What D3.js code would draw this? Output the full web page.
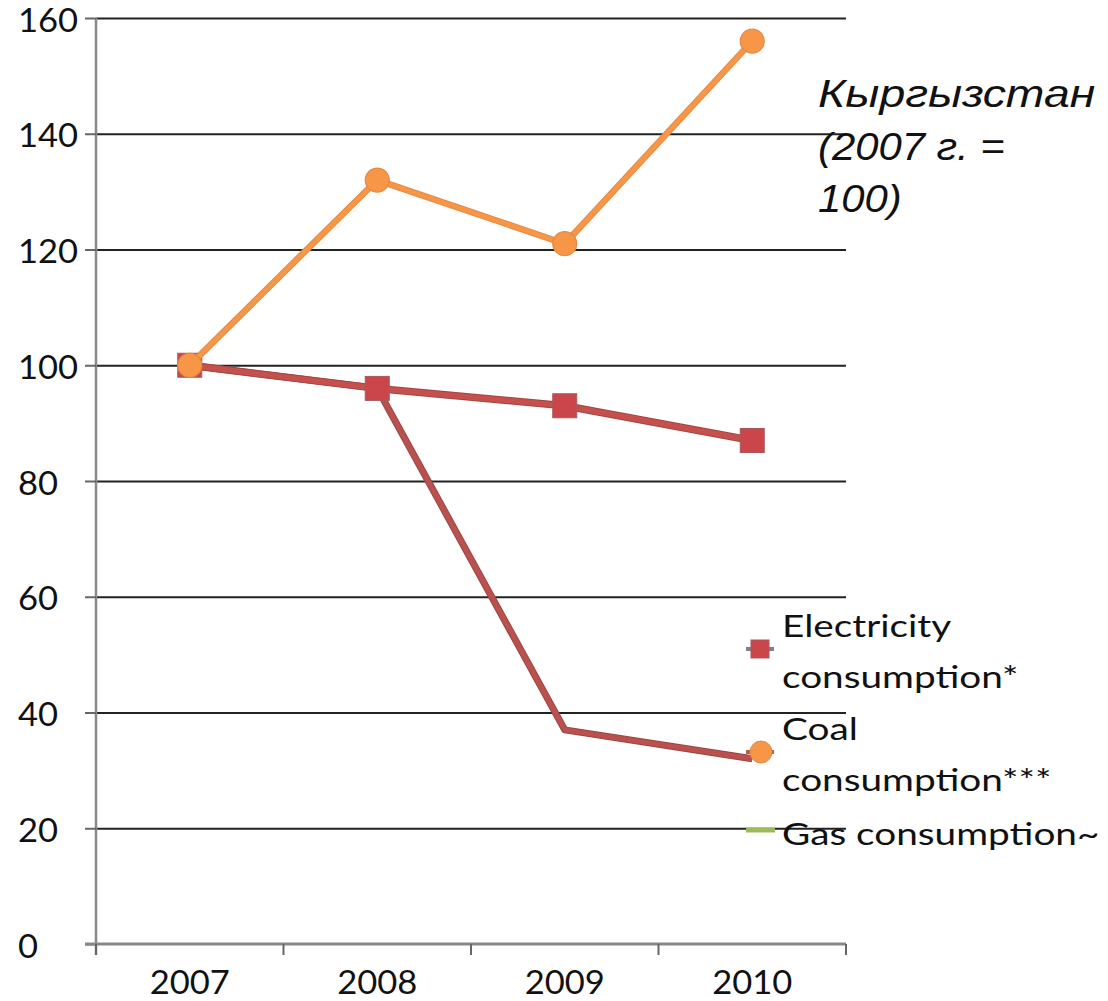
<!DOCTYPE html>
<html>
<head>
<meta charset="utf-8">
<script src="https://cdn.jsdelivr.net/npm/d3@7"></script>
<style>
  html, body { margin: 0; padding: 0; background: #fff; }
  svg { display: block; }
</style>
</head>
<body>
<svg id="chart" width="1108" height="1001"></svg>
<script>
// ---- data ----
const years = ["2007", "2008", "2009", "2010"];
const electricity = [100, 96, 93, 87];
const coal = [100, 132, 121, 156];
const gas = [100, 96, 37, 32];
const yTicks = [0, 20, 40, 60, 80, 100, 120, 140, 160];
const legendElectricity = ["Electricity", "consumption*"];
const legendCoal = ["Coal", "consumption***"];
const legendGas = ["Gas consumption~"];
const titleLines = ["Кыргызстан", "(2007 г. =", "100)"];

// ---- layout ----
const svg = d3.select("#chart");
const pL = 96, pR = 846, pT = 18, pB = 944;

const x = d3.scaleBand().domain(years).range([pL, pR]).padding(0);
const cx = d => x(d) + x.bandwidth() / 2;
const y = d3.scaleLinear().domain([0, 160]).range([pB, pT]);

const axisFont = "Lato, 'Open Sans', sans-serif";

// gridlines via axis
const grid = svg.append("g")
  .attr("transform", `translate(${pL},0)`)
  .call(d3.axisLeft(y).tickValues(yTicks.filter(v => v > 0)).tickSize(-(pR - pL)).tickFormat(""));
grid.select(".domain").remove();
grid.selectAll(".tick line").attr("stroke", "#222").attr("stroke-width", 2);

// y-axis line and outward ticks
const yAxis = svg.append("g")
  .attr("transform", `translate(${pL},0)`)
  .call(d3.axisLeft(y).tickValues(yTicks).tickSize(11).tickSizeOuter(0).tickFormat(""));
yAxis.select(".domain").attr("stroke", "#888").attr("stroke-width", 2.5)
  .attr("d", `M0,${pT}V${pB + 11}`);
yAxis.selectAll(".tick line").attr("stroke", "#666").attr("stroke-width", 2);

// y labels (left aligned)
svg.append("g").selectAll("text").data(yTicks).join("text")
  .attr("dy", "0.36em")
  .attr("font-family", axisFont)
  .attr("font-size", 32)
  .attr("transform", d => `translate(18,${y(d) + 2}) scale(1.08,1)`)
  .attr("fill", "#111")
  .text(d => d);

// x-axis
const xAxis = svg.append("g")
  .attr("transform", `translate(0,${pB})`)
  .call(d3.axisBottom(x).tickSize(0).tickFormat(""));
xAxis.select(".domain").attr("stroke", "#888").attr("stroke-width", 3)
  .attr("d", `M${pL - 11},0H${pR}`);
const bounds = years.map(d => x(d)).concat([pR]);
svg.append("g").selectAll("line").data(bounds).join("line")
  .attr("x1", d => d).attr("x2", d => d)
  .attr("y1", pB).attr("y2", pB + 11)
  .attr("stroke", "#666").attr("stroke-width", 2);
svg.append("g").selectAll("text").data(years).join("text")
  .attr("text-anchor", "middle")
  .attr("font-family", axisFont)
  .attr("font-size", 32)
  .attr("fill", "#111")
  .attr("transform", d => `translate(${cx(d)},994) scale(1.08,1)`)
  .text(d => d);

// ---- lines ----
const lineGen = d3.line().x((d, i) => cx(years[i])).y(d => y(d));

function drawLine(vals, edge, fill, w) {
  svg.append("path").datum(vals).attr("d", lineGen)
    .attr("fill", "none").attr("stroke", edge).attr("stroke-width", w + 2)
    .attr("stroke-linejoin", "round");
  svg.append("path").datum(vals).attr("d", lineGen)
    .attr("fill", "none").attr("stroke", fill).attr("stroke-width", w)
    .attr("stroke-linejoin", "round");
}
drawLine(gas, "#9a4644", "#bb514e", 5);
drawLine(electricity, "#a24644", "#c6504d", 5.5);

const sq = 24;
svg.append("g").selectAll("rect").data(electricity).join("rect")
  .attr("x", (d, i) => cx(years[i]) - sq / 2)
  .attr("y", d => y(d) - sq / 2)
  .attr("width", sq).attr("height", sq)
  .attr("fill", "#cb464a").attr("stroke", "#a8585a").attr("stroke-width", 1);

drawLine(coal, "#e28c48", "#f79646", 4.5);
svg.append("g").selectAll("circle").data(coal).join("circle")
  .attr("cx", (d, i) => cx(years[i]))
  .attr("cy", d => y(d))
  .attr("r", 12)
  .attr("fill", "#f79646").attr("stroke", "#e08a48").attr("stroke-width", 1.2);

// ---- legend ----
const legendFont = "Lato, 'Open Sans', sans-serif";
const lg = svg.append("g");
const lx = 782;
function legendText(lines, baseline) {
  lines.forEach((t, i) => {
    lg.append("text")
      .attr("font-family", legendFont)
      .attr("font-size", 31)
      .attr("fill", "#111")
      .attr("transform", `translate(${lx},${baseline + i * 51}) scale(1.25,1)`)
      .text(t);
  });
}
// electricity marker
lg.append("line").attr("x1", 746).attr("x2", 774).attr("y1", 649).attr("y2", 649)
  .attr("stroke", "#8a7d96").attr("stroke-width", 4);
lg.append("rect").attr("x", 751).attr("y", 640).attr("width", 18).attr("height", 18)
  .attr("fill", "#cb464a").attr("stroke", "#a8585a");
legendText(legendElectricity, 637);
// coal marker
lg.append("line").attr("x1", 746).attr("x2", 774).attr("y1", 752).attr("y2", 752)
  .attr("stroke", "#b0604c").attr("stroke-width", 4);
lg.append("circle").attr("cx", 761).attr("cy", 752).attr("r", 11)
  .attr("fill", "#f79646").attr("stroke", "#e08a48");
legendText(legendCoal, 740);
// gas marker
lg.append("line").attr("x1", 746).attr("x2", 775).attr("y1", 830).attr("y2", 830)
  .attr("stroke", "#9bbb59").attr("stroke-width", 5);
legendText(legendGas, 845);

// ---- title ----
const titleStretch = [1.22, 1.1, 1.1];
const tg = svg.append("g");
titleLines.forEach((t, i) => {
  tg.append("text")
    .attr("font-family", "'Liberation Sans', Arial, sans-serif")
    .attr("font-style", "italic")
    .attr("font-size", 38)
    .attr("fill", "#111")
    .attr("transform", `translate(818,${107 + i * 52.5}) scale(${titleStretch[i]},1)`)
    .text(t);
});
</script>
</body>
</html>
